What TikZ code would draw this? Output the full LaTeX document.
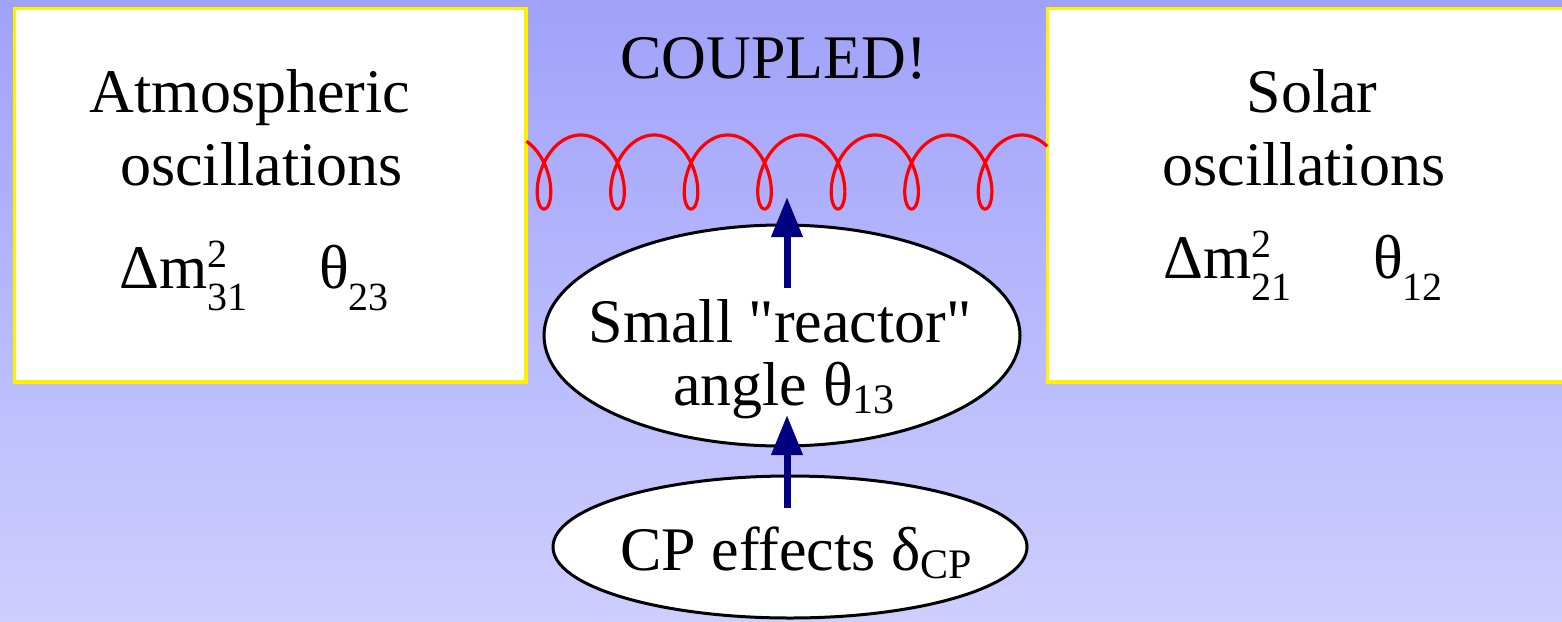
\documentclass[tikz,border=0pt]{standalone}
\usepackage{fontspec}
\setmainfont{Liberation Serif}
\newfontfamily\plainserif{Liberation Serif}
\usetikzlibrary{arrows.meta,shapes.geometric}
\definecolor{bgtop}{RGB}{160,162,250}
\definecolor{bgbot}{RGB}{206,206,255}
\definecolor{arrowblue}{RGB}{0,0,128}
\newcommand{\bigfs}{\plainserif\fontsize{62}{73}\selectfont}
\newcommand{\smfs}{\fontsize{40}{40}\selectfont}
\newcommand{\tinyfs}{\fontsize{42}{42}\selectfont}
\newcommand{\mysubsup}[2]{\makebox[0pt][l]{\raisebox{21pt}{\smfs #1}}\raisebox{-22pt}{\smfs #2}}
\newcommand{\mysub}[1]{\raisebox{-22pt}{\smfs #1}}
\newcommand{\mylow}[1]{\raisebox{-8pt}{\tinyfs #1}}
\begin{document}
\begin{tikzpicture}[x=1pt,y=-1pt,
  txt/.style={font=\bigfs, inner sep=0pt, anchor=base},
  txtw/.style={font=\bigfs, inner sep=0pt, anchor=base west},
  panel/.style={draw=yellow, fill=white, line width=3.5pt, inner sep=0pt},
  bubble/.style={ellipse, draw=black, fill=white, line width=3pt, inner sep=0pt},
  uparrow/.style={draw=arrowblue, line width=7pt, -{Triangle[length=40pt,width=30pt]}},
  coilline/.style={draw=red, line width=3.2pt}]
\useasboundingbox (0,0) rectangle (1562,621);
\clip (0,0) rectangle (1562,621);
\shade[top color=bgtop, bottom color=bgbot] (0,0) rectangle (1562,621);
% panels
\node[panel, minimum width=511.5pt, minimum height=373.5pt] (atm) at (270.25,195.25) {};
\node[panel, minimum width=552.5pt, minimum height=373.5pt] (sol) at (1323.75,195.25) {};
% coil between panels
\draw[coilline] plot[domain=-2.55:41.65, samples=800] ({544+11.7*\x-22*sin(\x r)},{172+37*cos(\x r)});
% ellipses
\node[bubble, minimum width=476pt, minimum height=221pt] (reactor) at (782,335.5) {};
\node[bubble, minimum width=474pt, minimum height=142pt] (cp) at (790,547) {};
% texts
\node[txt] (t1) at (250,112) {Atmospheric};
\node[txt] (t2) at (261.5,185) {oscillations};
\node[txtw] (t3) at (119,288) {Δm\mysubsup{2}{31}};
\node[txtw] (t4) at (319,288) {θ\mysub{23}};
\node[txt] (cpl) at (773.5,78) {COUPLED!};
\node[txt] (s1) at (1312,112) {Solar};
\node[txt] (s2) at (1304,185) {oscillations};
\node[txtw] (s3) at (1163,278) {Δm\mysubsup{2}{21}};
\node[txtw] (s4) at (1373,278) {θ\mysub{12}};
\node[txt] (r1) at (780,342) {Small "reactor"};
\node[txtw] (r2) at (673,405) {angle θ\mylow{13}};
\node[txtw] (p1) at (620,570) {CP effects δ\mylow{CP}};
% arrows
\coordinate (a1s) at (787,288);
\coordinate (a1e) at (787,197);
\coordinate (a2s) at (787,508);
\coordinate (a2e) at (787,415);
\draw[uparrow] (a1s) -- (a1e);
\draw[uparrow] (a2s) -- (a2e);
\end{tikzpicture}
\end{document}
